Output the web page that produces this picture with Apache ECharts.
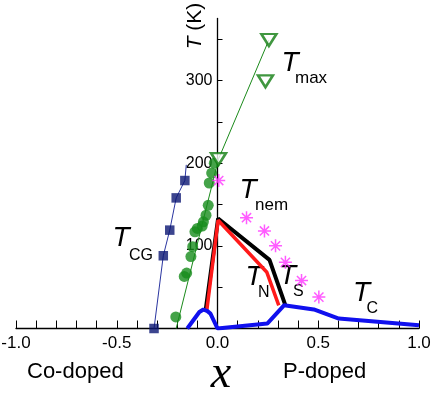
<!DOCTYPE html>
<html>
<head>
<meta charset="utf-8">
<script src="https://cdn.jsdelivr.net/npm/echarts@6/dist/echarts.min.js"></script>
<style>
  html, body { margin: 0; padding: 0; background: #ffffff; }
  #main { width: 436px; height: 400px; }
</style>
</head>
<body>
<div id="main"></div>
<script>
// T_CG squares and the thin guide line through them
const tcgPoints = [[-0.315, 0], [-0.269, 88], [-0.237, 119], [-0.205, 158], [-0.162, 179]]
const tcgLine = [[-0.315, 0], [-0.269, 88], [-0.237, 119], [-0.205, 158], [-0.162, 179], [-0.155, 198]]
// green filled circles (Co side)
const greenCircles = [[-0.207, 14], [-0.165, 63], [-0.153, 67], [-0.132, 87], [-0.123, 99], [-0.112, 117],
  [-0.1, 121], [-0.076, 124], [-0.07, 129], [-0.057, 137], [-0.046, 149], [-0.041, 176], [-0.029, 188], [-0.016, 200]]
const greenLine = [[-0.205, 0], [0.005, 205], [0.255, 349]]
// T_max open triangles
const tmaxPoints = [[0.005, 205], [0.238, 299], [0.255, 349]]
// T_S (black), T_N (red), T_C (blue)
const tsLine = [[-0.06, 20], [0.003, 133], [0.258, 83], [0.337, 28]]
const tnLine = [[-0.053, 22], [0.003, 131], [0.245, 68], [0.304, 28]]
const tcLine = [[-0.15, 0], [-0.12, 10], [-0.09, 20], [-0.07, 23], [-0.05, 21], [-0.035, 18], [0, 0],
  [0.247, 6], [0.33, 28], [0.478, 23], [0.602, 12], [1.0, 4]]
// T_nem asterisks
const tnemPoints = [[0.006, 179], [0.144, 134], [0.233, 118], [0.288, 100], [0.337, 80], [0.417, 58], [0.503, 38]]
// axis ticks / labels
const xMin = -1
const xMax = 1
const xLabelValues = [-1, -0.5, 0, 0.5, 1]
const yTickValues = [50, 100, 150, 200, 250, 300, 350]
const yLabelValues = [100, 200, 300]

const sans = 'Liberation Sans'
const asterisk = 'path://M0,-10L0,10M-10,0L10,0M-7.07,-7.07L7.07,7.07M-7.07,7.07L7.07,-7.07'

const gridLeft = 16
const gridRight = 17
const gridWidth = 436 - gridLeft - gridRight
// shift the y axis so it sits on x = 0
const yAxisOffset = -((0 - xMin) / (xMax - xMin)) * gridWidth

const txt = (x, y, text, size, opts) => ({
  type: 'text',
  x: x,
  y: y,
  style: Object.assign({
    text: text,
    fontFamily: sans,
    fontSize: size,
    fill: '#000',
    textAlign: 'left',
    align: 'left',
    textVerticalAlign: 'middle',
    verticalAlign: 'middle'
  }, opts || {})
})
const italicT = (x, y) => txt(x, y, 'T', 28, { fontStyle: 'italic', textAlign: 'center', align: 'center' })

const myChart = echarts.init(document.getElementById('main'))
const option = {
  animation: false,
  grid: {
    left: gridLeft,
    right: gridRight,
    top: 18.5,
    bottom: 71.5,
    containLabel: false,
    outerBoundsMode: 'none'
  },
  xAxis: {
    type: 'value',
    min: xMin,
    max: xMax,
    interval: 0.1,
    splitLine: { show: false },
    axisLine: { onZero: false, lineStyle: { color: '#000', width: 1.3 } },
    axisTick: { inside: true, length: 8, lineStyle: { color: '#000', width: 1 } },
    axisLabel: {
      customValues: xLabelValues,
      formatter: (v) => v.toFixed(1),
      fontFamily: sans,
      fontSize: 17,
      color: '#000',
      margin: 6
    }
  },
  yAxis: {
    type: 'value',
    min: 0,
    max: 375,
    offset: yAxisOffset,
    splitLine: { show: false },
    axisLine: { onZero: false, lineStyle: { color: '#000', width: 1.3 } },
    axisTick: { inside: true, length: 5, customValues: yTickValues, lineStyle: { color: '#000', width: 1 } },
    axisLabel: {
      customValues: yLabelValues,
      fontFamily: sans,
      fontSize: 16,
      color: '#000',
      margin: 5
    }
  },
  series: [
    {
      type: 'line',
      data: tcgLine,
      showSymbol: false,
      lineStyle: { color: '#2a35a0', width: 1 },
      z: 2
    },
    {
      type: 'scatter',
      data: tcgPoints,
      symbol: 'rect',
      symbolSize: 9.5,
      itemStyle: { color: '#0b1673' },
      z: 3
    },
    {
      type: 'line',
      data: greenLine,
      showSymbol: false,
      lineStyle: { color: '#1a8a1a', width: 1 },
      z: 2
    },
    {
      type: 'scatter',
      data: greenCircles,
      symbol: 'circle',
      symbolSize: 11,
      itemStyle: { color: '#168c1c' },
      z: 3
    },
    {
      type: 'line',
      data: tsLine,
      showSymbol: false,
      lineStyle: { color: '#000', width: 4 },
      z: 4
    },
    {
      type: 'line',
      data: tnLine,
      showSymbol: false,
      lineStyle: { color: '#ff1a1a', width: 3.5 },
      z: 5
    },
    {
      type: 'line',
      data: tcLine,
      showSymbol: false,
      lineStyle: { color: '#1010ee', width: 4 },
      z: 6
    },
    {
      type: 'scatter',
      data: tmaxPoints,
      symbol: 'triangle',
      symbolRotate: 180,
      symbolSize: [15, 12],
      itemStyle: { color: '#fff', borderColor: '#107d10', borderWidth: 2.5 },
      z: 7
    },
    {
      type: 'scatter',
      data: tnemPoints,
      symbol: asterisk,
      symbolSize: 13,
      itemStyle: { color: 'none', borderColor: '#ff33ff', borderWidth: 1.5 },
      z: 8
    }
  ],
  graphic: [
    // axis titles
    {
      type: 'text',
      x: 195,
      y: 26,
      rotation: Math.PI / 2,
      style: {
        text: '{i|T} (K)',
        fontFamily: sans,
        fontSize: 21,
        fill: '#000',
        textAlign: 'center',
        align: 'center',
        textVerticalAlign: 'middle',
        verticalAlign: 'middle',
        rich: { i: { fontFamily: sans, fontSize: 21, fontStyle: 'italic', fill: '#000' } }
      }
    },
    txt(27, 371.5, 'Co-doped', 22),
    txt(283, 371.5, 'P-doped', 22),
    {
      type: 'text',
      x: 221,
      y: 375,
      style: {
        text: 'x',
        font: 'italic 46px "Liberation Serif", "DejaVu Serif", serif',
        fill: '#000',
        textAlign: 'center',
        align: 'center',
        textVerticalAlign: 'middle',
        verticalAlign: 'middle'
      }
    },
    // curve labels
    italicT(121, 238), txt(129, 256, 'CG', 16),
    italicT(290, 63), txt(295, 78.5, 'max', 17),
    italicT(248, 190), txt(255, 205, 'nem', 17),
    italicT(254, 277), txt(258, 292.5, 'N', 16),
    italicT(287.5, 276), txt(293, 292, 'S', 16),
    italicT(361.5, 293), txt(366.5, 309, 'C', 16)
  ]
}
myChart.setOption(option, true)
addEventListener('resize', () => {
  myChart.resize()
})
</script>
</body>
</html>
